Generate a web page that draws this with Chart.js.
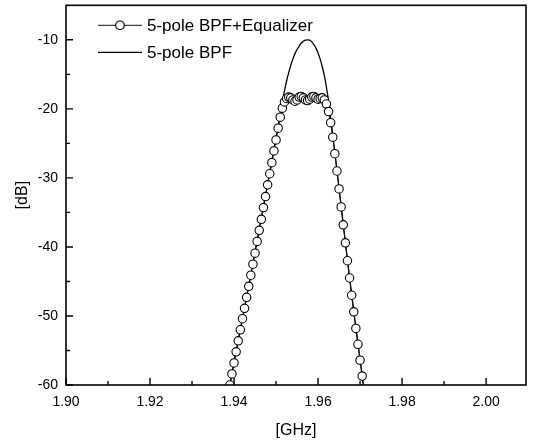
<!DOCTYPE html>
<html>
<head>
<meta charset="utf-8">
<script src="https://cdn.jsdelivr.net/npm/chart.js@4.4.1/dist/chart.umd.min.js"></script>
<style>
  html, body { margin: 0; padding: 0; background: #fff; }
  #wrap { width: 536px; height: 441px; }
</style>
</head>
<body>
<div id="wrap"><canvas id="c" width="536" height="441"></canvas></div>
<script>
// ---- data ----
const freqGHz = [
  1.9385, 1.9390, 1.9395, 1.9400, 1.9405, 1.9410, 1.9415, 1.9420, 1.9425, 1.9430,
  1.9435, 1.9440, 1.9445, 1.9450, 1.9455, 1.9460, 1.9465, 1.9470, 1.9475, 1.9480,
  1.9485, 1.9490, 1.9495, 1.9500, 1.9505, 1.9510, 1.9515, 1.9520, 1.9525, 1.9530,
  1.9535, 1.9540, 1.9545, 1.9550, 1.9555, 1.9560, 1.9565, 1.9570, 1.9575, 1.9580,
  1.9585, 1.9590, 1.9595, 1.9600, 1.9605, 1.9610, 1.9615, 1.9620, 1.9625, 1.9630,
  1.9635, 1.9640, 1.9645, 1.9650, 1.9655, 1.9660, 1.9665, 1.9670, 1.9675, 1.9680,
  1.9685, 1.9690, 1.9695, 1.9700, 1.9705, 1.9710
];
const bpfDb = [
  -61.6, -60.0, -58.3, -56.7, -55.1, -53.5, -51.9, -50.4, -48.8, -47.2,
  -45.6, -44.0, -42.3, -40.7, -39.0, -37.4, -35.8, -34.1, -32.5, -30.8,
  -29.2, -27.5, -25.8, -24.1, -22.4, -20.7, -19.0, -17.4, -16.0, -14.8,
  -13.7, -12.8, -12.0, -11.4, -10.9, -10.5, -10.2, -10.05, -10.0, -10.05,
  -10.3, -10.7, -11.2, -11.9, -12.8, -13.9, -15.2, -16.9, -18.9, -21.3,
  -23.8, -26.3, -28.9, -31.5, -34.1, -36.7, -39.3, -41.9, -44.4, -46.9,
  -49.3, -51.7, -54.0, -56.3, -58.6, -60.9
];
const bpfEqDb = [
  -61.6, -60.0, -58.4, -56.8, -55.2, -53.6, -52.0, -50.4, -48.9, -47.3,
  -45.7, -44.1, -42.5, -40.9, -39.2, -37.6, -36.0, -34.3, -32.7, -31.0,
  -29.4, -27.8, -26.1, -24.5, -22.8, -21.2, -19.9, -19.0, -18.5, -18.3,
  -18.4, -18.7, -18.9, -18.7, -18.3, -18.2, -18.4, -18.7, -18.8, -18.6,
  -18.3, -18.2, -18.4, -18.6, -18.5, -18.4, -18.7, -19.3, -20.4, -22.0,
  -24.1, -26.5, -29.0, -31.6, -34.2, -36.8, -39.4, -42.0, -44.5, -47.0,
  -49.4, -51.8, -54.1, -56.4, -58.7, -61.0
];
const seriesNames = ['5-pole BPF+Equalizer', '5-pole BPF'];
const xMajorTicks = [1.90, 1.92, 1.94, 1.96, 1.98, 2.00];
const xMinorTicks = [1.91, 1.93, 1.95, 1.97, 1.99];
const yMajorTicks = [-60, -50, -40, -30, -20, -10];
const yMinorTicks = [-55, -45, -35, -25, -15];

// ---- helpers ----
const FONT = '"Liberation Sans", Arial, sans-serif';
const toXY = (ys) => freqGHz.map((f, i) => ({ x: f, y: ys[i] }));

const frameAndTicks = {
  id: 'frameAndTicks',
  afterDraw(chart) {
    const { ctx, chartArea: a, scales: { x, y } } = chart;
    ctx.save();
    ctx.strokeStyle = '#000';
    ctx.lineWidth = 1.6;
    ctx.strokeRect(a.left, a.top, a.right - a.left, a.bottom - a.top);
    ctx.lineWidth = 1.4;
    ctx.beginPath();
    xMajorTicks.forEach(v => { const px = x.getPixelForValue(v); ctx.moveTo(px, a.bottom); ctx.lineTo(px, a.bottom - 7); });
    xMinorTicks.forEach(v => { const px = x.getPixelForValue(v); ctx.moveTo(px, a.bottom); ctx.lineTo(px, a.bottom - 4); });
    yMajorTicks.forEach(v => { const py = y.getPixelForValue(v); ctx.moveTo(a.left, py); ctx.lineTo(a.left + 7, py); });
    yMinorTicks.forEach(v => { const py = y.getPixelForValue(v); ctx.moveTo(a.left, py); ctx.lineTo(a.left + 4, py); });
    ctx.stroke();
    ctx.restore();
  }
};

const insideLegend = {
  id: 'insideLegend',
  afterDraw(chart) {
    const { ctx, chartArea: a } = chart;
    const x0 = a.left + 32, x1 = a.left + 76, tx = a.left + 81;
    const rows = [a.top + 20, a.top + 47];
    ctx.save();
    ctx.font = '17px ' + FONT;
    ctx.fillStyle = '#000';
    ctx.textBaseline = 'middle';
    chart.data.datasets.forEach((ds, i) => {
      const yy = rows[i];
      ctx.strokeStyle = ds.borderColor;
      ctx.lineWidth = ds.borderWidth;
      ctx.beginPath(); ctx.moveTo(x0, yy); ctx.lineTo(x1, yy); ctx.stroke();
      if (ds.pointRadius > 0) {
        ctx.beginPath();
        ctx.arc((x0 + x1) / 2, yy, 4.3, 0, Math.PI * 2);
        ctx.fillStyle = '#fff'; ctx.fill();
        ctx.strokeStyle = '#000'; ctx.lineWidth = 1.2; ctx.stroke();
        ctx.fillStyle = '#000';
      }
      ctx.fillText(ds.label, tx, yy + 1);
    });
    ctx.restore();
  }
};

new Chart(document.getElementById('c'), {
  type: 'line',
  data: {
    datasets: [
      {
        label: seriesNames[0],
        data: toXY(bpfEqDb),
        borderColor: '#111',
        borderWidth: 1,
        pointRadius: 4.2,
        pointBackgroundColor: '#fff',
        pointBorderColor: '#000',
        pointBorderWidth: 1.1,
        tension: 0
      },
      {
        label: seriesNames[1],
        data: toXY(bpfDb),
        borderColor: '#000',
        borderWidth: 1.3,
        pointRadius: 0,
        cubicInterpolationMode: 'monotone'
      }
    ]
  },
  options: {
    responsive: false,
    animation: false,
    events: [],
    layout: { padding: { top: 5, right: 10, left: 0, bottom: 0 } },
    plugins: { legend: { display: false }, tooltip: { enabled: false } },
    scales: {
      x: {
        type: 'linear',
        min: 1.90,
        max: 2.0095,
        afterBuildTicks: (s) => { s.ticks = xMajorTicks.map(v => ({ value: v })); },
        afterFit: (s) => { s.height = 56; s.paddingLeft = 0; s.paddingRight = 0; },
        grid: { display: false, drawTicks: false },
        border: { display: false },
        ticks: {
          color: '#000', padding: 9, maxRotation: 0, autoSkip: false,
          font: { family: FONT, size: 14 },
          callback: (v) => Number(v).toFixed(2)
        },
        title: {
          display: true, text: '[GHz]', color: '#000',
          font: { family: FONT, size: 16 }, padding: { top: 0, bottom: 1 }
        }
      },
      y: {
        type: 'linear',
        min: -60,
        max: -5,
        afterBuildTicks: (s) => { s.ticks = yMajorTicks.map(v => ({ value: v })); },
        afterFit: (s) => { s.width = 66; s.paddingTop = 0; s.paddingBottom = 0; },
        grid: { display: false, drawTicks: false },
        border: { display: false },
        ticks: {
          color: '#000', padding: 8, autoSkip: false,
          font: { family: FONT, size: 14 },
          callback: (v) => String(v)
        },
        title: {
          display: true, text: '[dB]', color: '#000',
          font: { family: FONT, size: 16 }, padding: { top: 13, bottom: 0 }
        }
      }
    }
  },
  plugins: [frameAndTicks, insideLegend]
});
</script>
</body>
</html>
